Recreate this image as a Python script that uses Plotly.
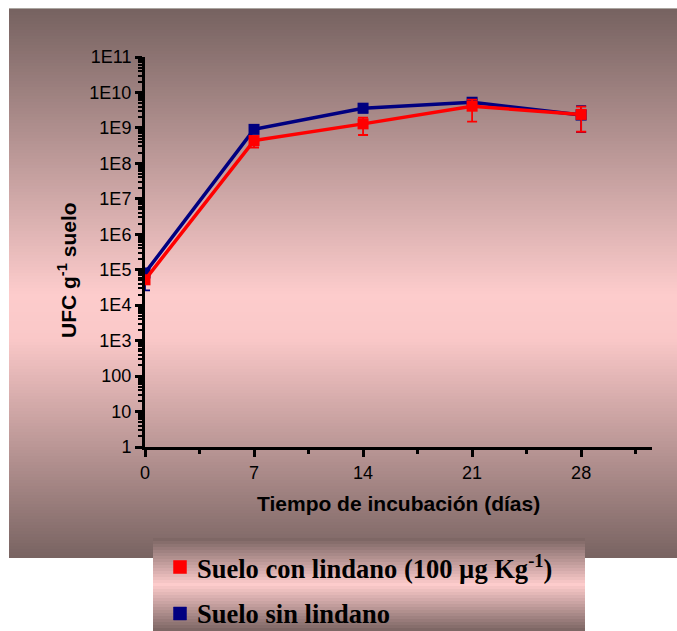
import numpy as np
import plotly.graph_objects as go

# Incubation days
dias = [0, 7, 14, 21, 28]

# CFU per gram of soil, soil with lindane (100 µg/kg)
con_lindano = [5.2e4, 4.4e8, 1.3e9, 4.1e9, 2.4e9]
con_lindano_sup = [5.8e4, 5.6e8, 1.95e9, 6.3e9, 4.0e9]
con_lindano_inf = [4.6e4, 2.8e8, 6.3e8, 1.5e9, 7.8e8]

# CFU per gram of soil, soil without lindane
sin_lindano = [8.1e4, 9.1e8, 3.6e9, 5.3e9, 2.3e9]
sin_lindano_sup = [9.0e4, 1.0e9, 3.9e9, 6.5e9, 4.1e9]
sin_lindano_inf = [2.6e4, 8.2e8, 2.7e9, 4.6e9, 7.6e8]

# Legend labels
series_names = ["Suelo con lindano (100 µg Kg<sup>-1</sup>)", "Suelo sin lindano"]

y_ticks = [1, 10, 100, 1e3, 1e4, 1e5, 1e6, 1e7, 1e8, 1e9, 1e10, 1e11]
y_ticktext = ["1", "10", "100", "1E3", "1E4", "1E5", "1E6", "1E7", "1E8", "1E9", "1E10", "1E11"]
x_ticks = [0, 7, 14, 21, 28]

ROJO = "#ff0000"
AZUL = "#000080"
SANS = "Liberation Sans, Arial, sans-serif"
SERIF = "Liberation Serif, Times New Roman, serif"

W, H = 677, 631
L, R, T, B = 145, 652, 57, 447  # plot area in pixels


def px_x(p):
    return (p - L) / (R - L)


def px_y(p):
    return (B - p) / (B - T)


def bands(x0, x1, y0, y1, stops, step=3):
    """Thin horizontal rectangles blending through (fraction, rgb) stops."""
    fr = np.array([s[0] for s in stops])
    cols = np.array([s[1] for s in stops], dtype=float)
    shapes = []
    y = y0
    while y < y1:
        yb = min(y + step, y1)
        f = ((y + yb) / 2 - y0) / (y1 - y0)
        c = [np.interp(f, fr, cols[:, k]) for k in range(3)]
        shapes.append(dict(
            type="rect", xref="paper", yref="paper", layer="below",
            x0=px_x(x0), x1=px_x(x1), y0=px_y(y), y1=px_y(min(yb + 0.6, y1)),
            fillcolor="rgb(%d,%d,%d)" % tuple(int(round(v)) for v in c),
            line=dict(width=0),
        ))
        y = yb
    return shapes


shapes = []
# outer panel
shapes.append(dict(type="line", xref="paper", yref="paper", layer="below",
                   x0=px_x(9), x1=px_x(677), y0=px_y(8.5), y1=px_y(8.5),
                   line=dict(color="rgb(170,165,160)", width=1)))
shapes += bands(9, 677, 9, 558, [
    (0.0, (118, 98, 96)),
    (0.52, (253, 204, 204)),
    (0.60, (250, 200, 200)),
    (1.0, (120, 99, 97)),
])
# legend panel
shapes += bands(153, 585, 538, 631, [
    (0.0, (122, 100, 98)),
    (0.50, (253, 204, 204)),
    (1.0, (122, 100, 98)),
])

# legend swatches and labels
annotations = []
for name, color, yc in zip(series_names, [ROJO, AZUL], [567, 613.5]):
    shapes.append(dict(type="rect", xref="paper", yref="paper",
                       x0=px_x(173.5), x1=px_x(186.5), y0=px_y(yc - 6.5), y1=px_y(yc + 6.5),
                       fillcolor=color, line=dict(color=color, width=0.5)))
    annotations.append(dict(text="<b>%s</b>" % name, xref="paper", yref="paper",
                            x=px_x(195), y=px_y(yc), xanchor="left", yanchor="middle",
                            showarrow=False,
                            font=dict(size=26.5, family=SERIF, color="black")))

annotations += [
    dict(text="<b>Tiempo de incubación (días)</b>", xref="paper", yref="paper",
         x=px_x(398), y=px_y(504), xanchor="center", yanchor="middle", showarrow=False,
         font=dict(size=21, family=SANS)),
    dict(text="<b>UFC g<sup>-1</sup> suelo</b>", xref="paper", yref="paper",
         x=px_x(67), y=px_y(270), xanchor="center", yanchor="middle",
         showarrow=False, textangle=-90,
         font=dict(size=21, family=SANS)),
]

fig = go.Figure()

fig.add_trace(go.Scatter(
    x=dias, y=sin_lindano, mode="lines+markers", name="Suelo sin lindano",
    line=dict(color=AZUL, width=3.5),
    marker=dict(symbol="square", size=11, color=AZUL),
    error_y=dict(type="data", symmetric=False,
                 array=[s - v for s, v in zip(sin_lindano_sup, sin_lindano)],
                 arrayminus=[v - i for v, i in zip(sin_lindano, sin_lindano_inf)],
                 color=AZUL, thickness=1.8, width=5),
))
fig.add_trace(go.Scatter(
    x=dias, y=con_lindano, mode="lines+markers", name="Suelo con lindano",
    line=dict(color=ROJO, width=3.5),
    marker=dict(symbol="square", size=11, color=ROJO),
    error_y=dict(type="data", symmetric=False,
                 array=[s - v for s, v in zip(con_lindano_sup, con_lindano)],
                 arrayminus=[v - i for v, i in zip(con_lindano, con_lindano_inf)],
                 color=ROJO, thickness=1.8, width=5),
))

fig.update_layout(
    width=W, height=H,
    margin=dict(l=L, r=W - R, t=T, b=H - B),
    paper_bgcolor="white",
    plot_bgcolor="rgba(0,0,0,0)",
    shapes=shapes,
    annotations=annotations,
    font=dict(family=SANS, color="black", size=18),
    showlegend=False,
)

fig.update_xaxes(
    range=[0, 32.55], tickvals=x_ticks, showgrid=False, zeroline=False,
    showline=True, linecolor="black", linewidth=3,
    ticks="outside", ticklen=7, tickwidth=3, tickcolor="black",
    minor=dict(tickvals=[3.5, 10.5, 17.5, 24.5, 31.5], ticks="outside", ticklen=4,
               tickwidth=3, tickcolor="black", showgrid=False),
    tickfont=dict(size=18),
)
fig.update_yaxes(
    type="log", range=[0, 11], tickvals=y_ticks, ticktext=y_ticktext,
    showgrid=False, zeroline=False,
    showline=True, linecolor="black", linewidth=3,
    ticks="outside", ticklen=7, tickwidth=3, tickcolor="black",
    minor=dict(ticks="outside", ticklen=4, tickwidth=2, tickcolor="black",
               dtick="D1", showgrid=False),
    tickfont=dict(size=18),
)

fig.write_html("out.html")
